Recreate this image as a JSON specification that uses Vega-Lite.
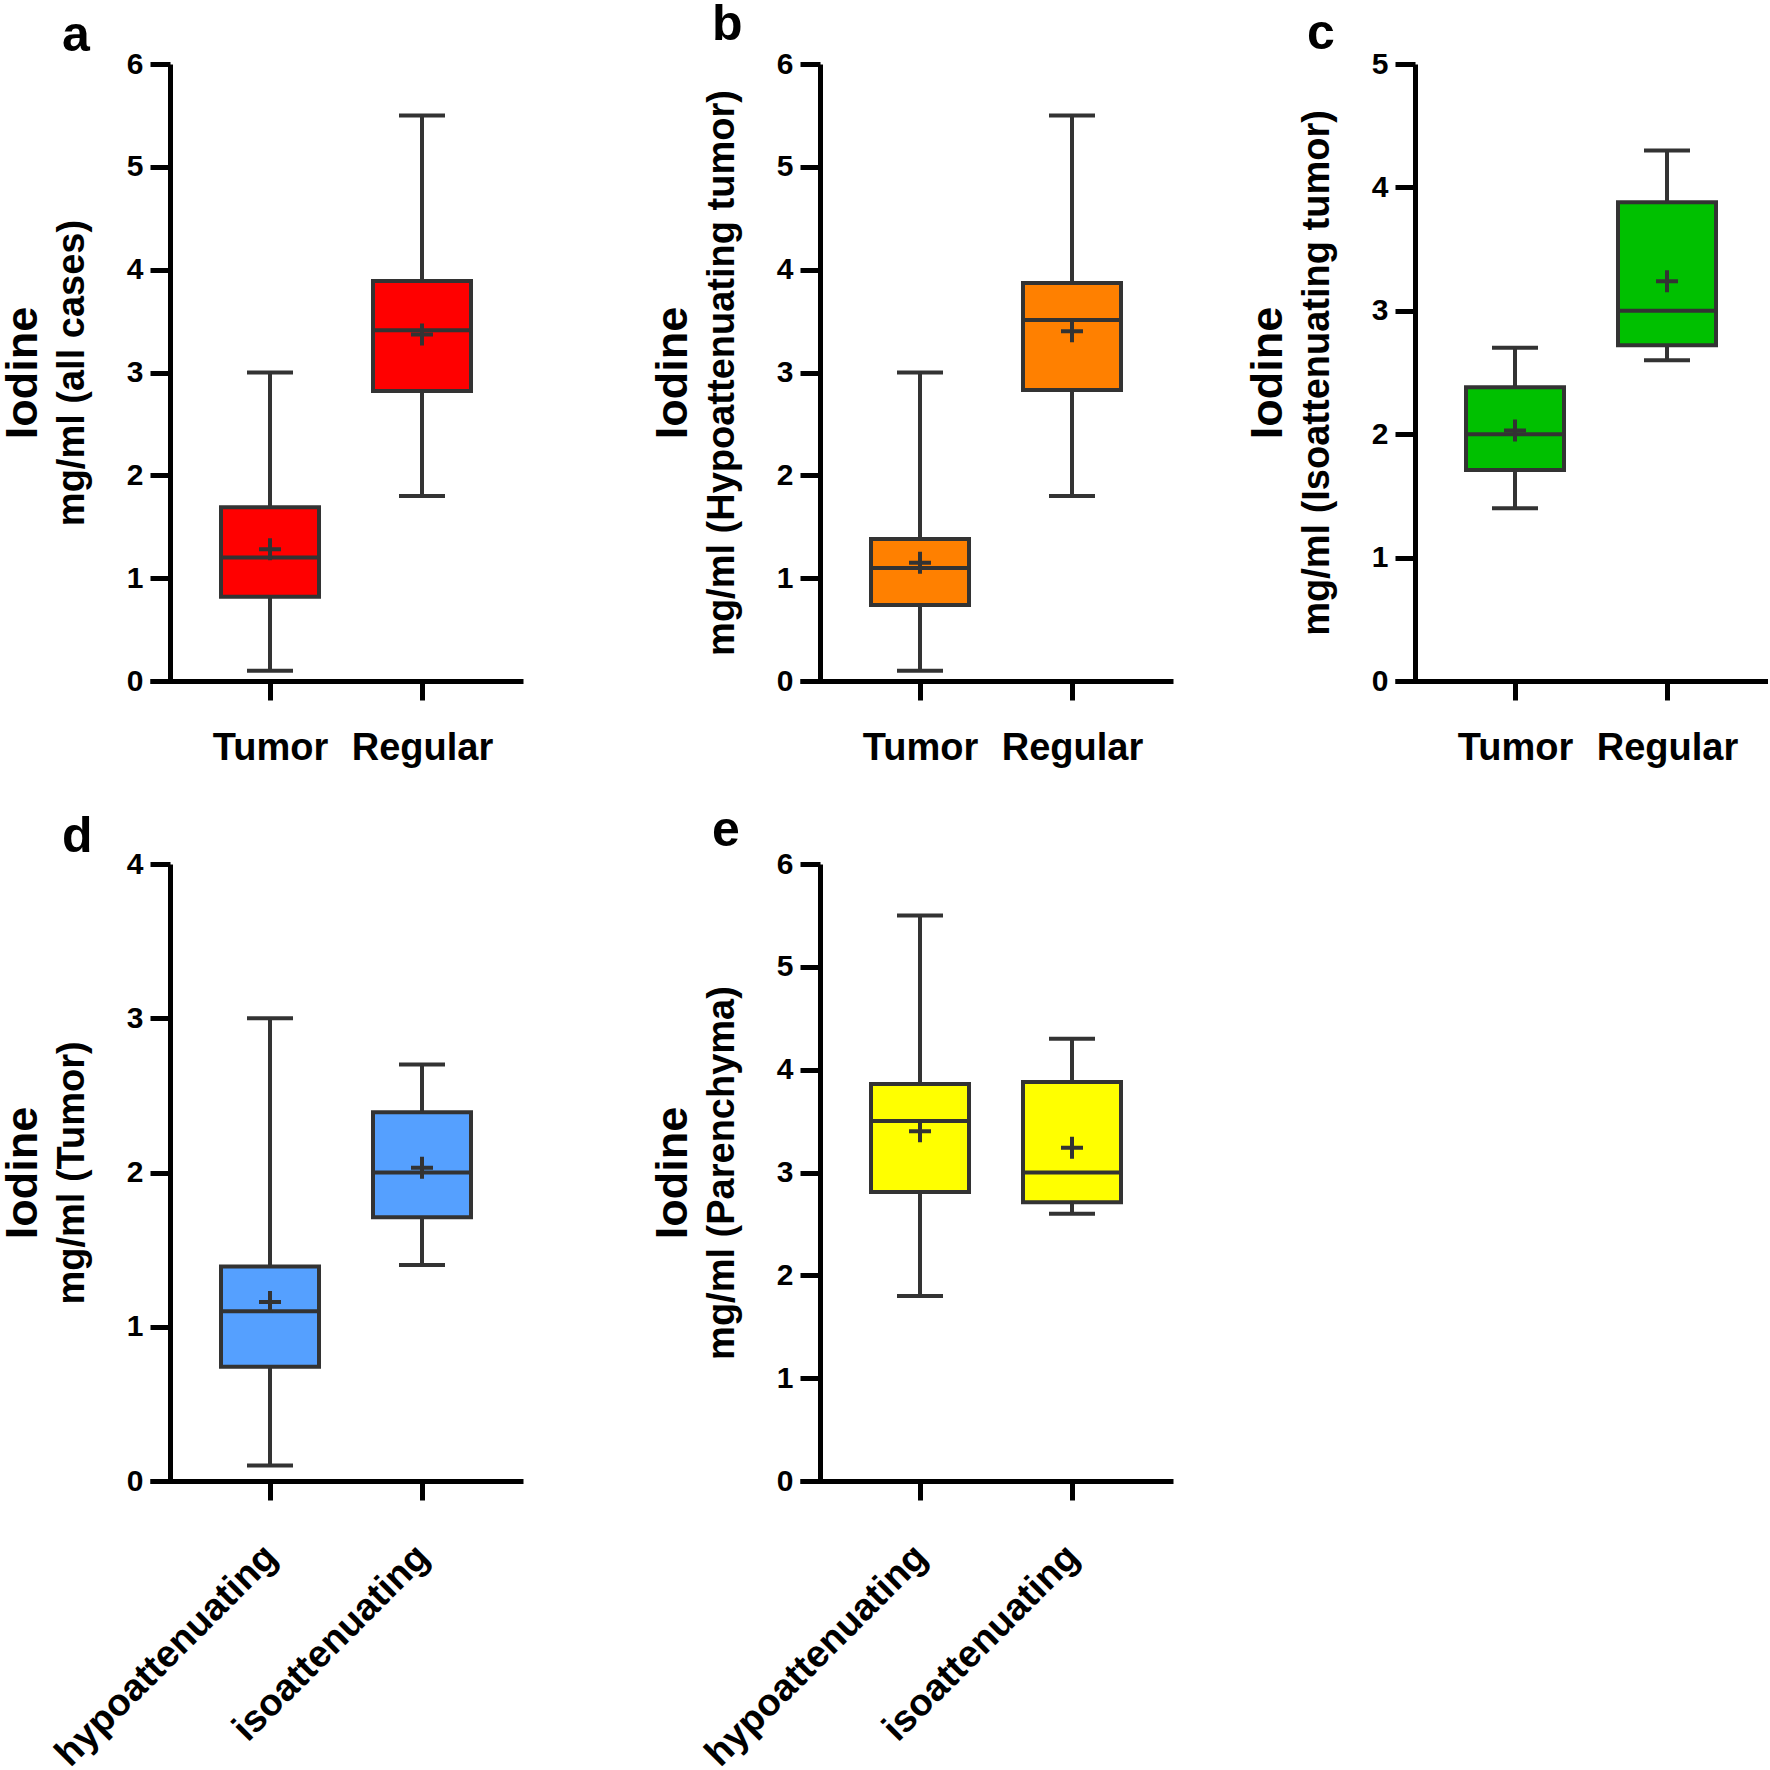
{
  "$schema": "https://vega.github.io/schema/vega-lite/v6.json",
  "padding": {"left": 0, "top": 0, "right": 0, "bottom": 0},
  "background": "white",
  "datasets": {
    "a": [
      {"g": "Tumor", "min": 0.1, "q1": 0.82, "med": 1.2, "q3": 1.69, "max": 3.0, "mean": 1.28},
      {"g": "Regular", "min": 1.8, "q1": 2.82, "med": 3.41, "q3": 3.89, "max": 5.5, "mean": 3.37}
    ],
    "b": [
      {"g": "Tumor", "min": 0.1, "q1": 0.74, "med": 1.1, "q3": 1.38, "max": 3.0, "mean": 1.15},
      {"g": "Regular", "min": 1.8, "q1": 2.83, "med": 3.51, "q3": 3.87, "max": 5.5, "mean": 3.4}
    ],
    "c": [
      {"g": "Tumor", "min": 1.4, "q1": 1.71, "med": 2.0, "q3": 2.38, "max": 2.7, "mean": 2.03},
      {"g": "Regular", "min": 2.6, "q1": 2.72, "med": 3.0, "q3": 3.88, "max": 4.3, "mean": 3.24}
    ],
    "d": [
      {"g": "hypoattenuating", "min": 0.1, "q1": 0.74, "med": 1.1, "q3": 1.39, "max": 3.0, "mean": 1.16},
      {"g": "isoattenuating", "min": 1.4, "q1": 1.71, "med": 2.0, "q3": 2.39, "max": 2.7, "mean": 2.03}
    ],
    "e": [
      {"g": "hypoattenuating", "min": 1.8, "q1": 2.81, "med": 3.5, "q3": 3.86, "max": 5.5, "mean": 3.4},
      {"g": "isoattenuating", "min": 2.6, "q1": 2.71, "med": 3.0, "q3": 3.88, "max": 4.3, "mean": 3.24}
    ]
  },
  "columns": 5,
  "spacing": {"row": 183, "column": 0},
  "bounds": "flush",
  "align": "each",
  "concat": [
    {
      "width": 373, "height": 617,
      "title": {"text": "a", "dy": 20},
      "data": {"name": "a"},
      "encoding": {"x": {"field": "g", "type": "nominal", "scale": {"type": "point", "domain": ["Tumor", "Regular"], "padding": 0.727, "align": 0.543},
        "axis": {"title": null, "labelAngle": 0, "labelFontSize": 38, "labelPadding": 29, "tickSize": 19, "labelBaseline": "top", "labelAlign": "center"}}},
      "layer": [
        {"mark": {"type": "rule", "color": "#333333", "strokeWidth": 4, "opacity": 1}, "encoding": {"y": {"field": "min", "type": "quantitative", "scale": {"domain": [0, 6], "nice": false}, "axis": {"title": "mg/ml (all cases)", "orient": "left", "offset": -20, "values": [0, 1, 2, 3, 4, 5, 6], "tickSize": 20, "labelPadding": 7, "labelFontSize": 30, "titleFontSize": 38, "titlePadding": 35}}, "y2": {"field": "max"}}},
        {"mark": {"type": "bar", "width": 98, "fill": "#FF0000", "stroke": "#333333", "strokeWidth": 4, "opacity": 1}, "encoding": {"y": {"field": "q1", "type": "quantitative", "axis": null}, "y2": {"field": "q3"}}},
        {"mark": {"type": "tick", "size": 98, "thickness": 4, "color": "#333333", "opacity": 1}, "encoding": {"y": {"field": "med", "type": "quantitative", "axis": null}}},
        {"mark": {"type": "tick", "size": 46, "thickness": 4, "color": "#333333", "opacity": 1}, "encoding": {"y": {"field": "min", "type": "quantitative", "axis": null}}},
        {"mark": {"type": "tick", "size": 46, "thickness": 4, "color": "#333333", "opacity": 1}, "encoding": {"y": {"field": "max", "type": "quantitative", "axis": null}}},
        {"mark": {"type": "point", "shape": "M-1,0L1,0M0,-1L0,1", "size": 484, "filled": false, "stroke": "#333333", "strokeWidth": 4, "opacity": 1}, "encoding": {"y": {"field": "mean", "type": "quantitative", "axis": {"title": "Iodine", "orient": "left", "offset": -20, "domain": false, "ticks": false, "labels": false, "titleFontSize": 45, "titlePadding": 125}}}}
      ],
      "resolve": {"axis": {"y": "independent"}}
    },
    {"width": 277, "height": 617, "data": {"values": []}, "mark": "point"},
    {
      "width": 373, "height": 617,
      "title": {"text": "b", "dy": 9},
      "data": {"name": "b"},
      "encoding": {"x": {"field": "g", "type": "nominal", "scale": {"type": "point", "domain": ["Tumor", "Regular"], "padding": 0.727, "align": 0.543},
        "axis": {"title": null, "labelAngle": 0, "labelFontSize": 38, "labelPadding": 29, "tickSize": 19, "labelBaseline": "top", "labelAlign": "center"}}},
      "layer": [
        {"mark": {"type": "rule", "color": "#333333", "strokeWidth": 4, "opacity": 1}, "encoding": {"y": {"field": "min", "type": "quantitative", "scale": {"domain": [0, 6], "nice": false}, "axis": {"title": "mg/ml (Hypoattenuating tumor)", "orient": "left", "offset": -20, "values": [0, 1, 2, 3, 4, 5, 6], "tickSize": 20, "labelPadding": 7, "labelFontSize": 30, "titleFontSize": 38, "titlePadding": 35}}, "y2": {"field": "max"}}},
        {"mark": {"type": "bar", "width": 98, "fill": "#FF8000", "stroke": "#333333", "strokeWidth": 4, "opacity": 1}, "encoding": {"y": {"field": "q1", "type": "quantitative", "axis": null}, "y2": {"field": "q3"}}},
        {"mark": {"type": "tick", "size": 98, "thickness": 4, "color": "#333333", "opacity": 1}, "encoding": {"y": {"field": "med", "type": "quantitative", "axis": null}}},
        {"mark": {"type": "tick", "size": 46, "thickness": 4, "color": "#333333", "opacity": 1}, "encoding": {"y": {"field": "min", "type": "quantitative", "axis": null}}},
        {"mark": {"type": "tick", "size": 46, "thickness": 4, "color": "#333333", "opacity": 1}, "encoding": {"y": {"field": "max", "type": "quantitative", "axis": null}}},
        {"mark": {"type": "point", "shape": "M-1,0L1,0M0,-1L0,1", "size": 484, "filled": false, "stroke": "#333333", "strokeWidth": 4, "opacity": 1}, "encoding": {"y": {"field": "mean", "type": "quantitative", "axis": {"title": "Iodine", "orient": "left", "offset": -20, "domain": false, "ticks": false, "labels": false, "titleFontSize": 45, "titlePadding": 125}}}}
      ],
      "resolve": {"axis": {"y": "independent"}}
    },
    {"width": 222, "height": 617, "data": {"values": []}, "mark": "point"},
    {
      "width": 373, "height": 617,
      "title": {"text": "c", "dy": 18},
      "data": {"name": "c"},
      "encoding": {"x": {"field": "g", "type": "nominal", "scale": {"type": "point", "domain": ["Tumor", "Regular"], "padding": 0.727, "align": 0.543},
        "axis": {"title": null, "labelAngle": 0, "labelFontSize": 38, "labelPadding": 29, "tickSize": 19, "labelBaseline": "top", "labelAlign": "center"}}},
      "layer": [
        {"mark": {"type": "rule", "color": "#333333", "strokeWidth": 4, "opacity": 1}, "encoding": {"y": {"field": "min", "type": "quantitative", "scale": {"domain": [0, 5], "nice": false}, "axis": {"title": "mg/ml (Isoattenuating tumor)", "orient": "left", "offset": -20, "values": [0, 1, 2, 3, 4, 5], "tickSize": 20, "labelPadding": 7, "labelFontSize": 30, "titleFontSize": 38, "titlePadding": 35}}, "y2": {"field": "max"}}},
        {"mark": {"type": "bar", "width": 98, "fill": "#00C000", "stroke": "#333333", "strokeWidth": 4, "opacity": 1}, "encoding": {"y": {"field": "q1", "type": "quantitative", "axis": null}, "y2": {"field": "q3"}}},
        {"mark": {"type": "tick", "size": 98, "thickness": 4, "color": "#333333", "opacity": 1}, "encoding": {"y": {"field": "med", "type": "quantitative", "axis": null}}},
        {"mark": {"type": "tick", "size": 46, "thickness": 4, "color": "#333333", "opacity": 1}, "encoding": {"y": {"field": "min", "type": "quantitative", "axis": null}}},
        {"mark": {"type": "tick", "size": 46, "thickness": 4, "color": "#333333", "opacity": 1}, "encoding": {"y": {"field": "max", "type": "quantitative", "axis": null}}},
        {"mark": {"type": "point", "shape": "M-1,0L1,0M0,-1L0,1", "size": 484, "filled": false, "stroke": "#333333", "strokeWidth": 4, "opacity": 1}, "encoding": {"y": {"field": "mean", "type": "quantitative", "axis": {"title": "Iodine", "orient": "left", "offset": -20, "domain": false, "ticks": false, "labels": false, "titleFontSize": 45, "titlePadding": 125}}}}
      ],
      "resolve": {"axis": {"y": "independent"}}
    },
    {
      "width": 373, "height": 617,
      "title": {"text": "d", "dy": 21},
      "data": {"name": "d"},
      "encoding": {"x": {"field": "g", "type": "nominal", "scale": {"type": "point", "domain": ["hypoattenuating", "isoattenuating"], "padding": 0.727, "align": 0.543},
        "axis": {"title": null, "labelAngle": -45, "labelFontSize": 38, "labelPadding": 51, "labelOffset": 1, "labelLimit": 600, "tickSize": 19, "labelBaseline": "middle", "labelAlign": "right"}}},
      "layer": [
        {"mark": {"type": "rule", "color": "#333333", "strokeWidth": 4, "opacity": 1}, "encoding": {"y": {"field": "min", "type": "quantitative", "scale": {"domain": [0, 4], "nice": false}, "axis": {"title": "mg/ml (Tumor)", "orient": "left", "offset": -20, "values": [0, 1, 2, 3, 4], "tickSize": 20, "labelPadding": 7, "labelFontSize": 30, "titleFontSize": 38, "titlePadding": 35}}, "y2": {"field": "max"}}},
        {"mark": {"type": "bar", "width": 98, "fill": "#55A0FF", "stroke": "#333333", "strokeWidth": 4, "opacity": 1}, "encoding": {"y": {"field": "q1", "type": "quantitative", "axis": null}, "y2": {"field": "q3"}}},
        {"mark": {"type": "tick", "size": 98, "thickness": 4, "color": "#333333", "opacity": 1}, "encoding": {"y": {"field": "med", "type": "quantitative", "axis": null}}},
        {"mark": {"type": "tick", "size": 46, "thickness": 4, "color": "#333333", "opacity": 1}, "encoding": {"y": {"field": "min", "type": "quantitative", "axis": null}}},
        {"mark": {"type": "tick", "size": 46, "thickness": 4, "color": "#333333", "opacity": 1}, "encoding": {"y": {"field": "max", "type": "quantitative", "axis": null}}},
        {"mark": {"type": "point", "shape": "M-1,0L1,0M0,-1L0,1", "size": 484, "filled": false, "stroke": "#333333", "strokeWidth": 4, "opacity": 1}, "encoding": {"y": {"field": "mean", "type": "quantitative", "axis": {"title": "Iodine", "orient": "left", "offset": -20, "domain": false, "ticks": false, "labels": false, "titleFontSize": 45, "titlePadding": 125}}}}
      ],
      "resolve": {"axis": {"y": "independent"}}
    },
    {"width": 277, "height": 617, "data": {"values": []}, "mark": "point"},
    {
      "width": 373, "height": 617,
      "title": {"text": "e", "dy": 15},
      "data": {"name": "e"},
      "encoding": {"x": {"field": "g", "type": "nominal", "scale": {"type": "point", "domain": ["hypoattenuating", "isoattenuating"], "padding": 0.727, "align": 0.543},
        "axis": {"title": null, "labelAngle": -45, "labelFontSize": 38, "labelPadding": 51, "labelOffset": 1, "labelLimit": 600, "tickSize": 19, "labelBaseline": "middle", "labelAlign": "right"}}},
      "layer": [
        {"mark": {"type": "rule", "color": "#333333", "strokeWidth": 4, "opacity": 1}, "encoding": {"y": {"field": "min", "type": "quantitative", "scale": {"domain": [0, 6], "nice": false}, "axis": {"title": "mg/ml (Parenchyma)", "orient": "left", "offset": -20, "values": [0, 1, 2, 3, 4, 5, 6], "tickSize": 20, "labelPadding": 7, "labelFontSize": 30, "titleFontSize": 38, "titlePadding": 35}}, "y2": {"field": "max"}}},
        {"mark": {"type": "bar", "width": 98, "fill": "#FFFF00", "stroke": "#333333", "strokeWidth": 4, "opacity": 1}, "encoding": {"y": {"field": "q1", "type": "quantitative", "axis": null}, "y2": {"field": "q3"}}},
        {"mark": {"type": "tick", "size": 98, "thickness": 4, "color": "#333333", "opacity": 1}, "encoding": {"y": {"field": "med", "type": "quantitative", "axis": null}}},
        {"mark": {"type": "tick", "size": 46, "thickness": 4, "color": "#333333", "opacity": 1}, "encoding": {"y": {"field": "min", "type": "quantitative", "axis": null}}},
        {"mark": {"type": "tick", "size": 46, "thickness": 4, "color": "#333333", "opacity": 1}, "encoding": {"y": {"field": "max", "type": "quantitative", "axis": null}}},
        {"mark": {"type": "point", "shape": "M-1,0L1,0M0,-1L0,1", "size": 484, "filled": false, "stroke": "#333333", "strokeWidth": 4, "opacity": 1}, "encoding": {"y": {"field": "mean", "type": "quantitative", "axis": {"title": "Iodine", "orient": "left", "offset": -20, "domain": false, "ticks": false, "labels": false, "titleFontSize": 45, "titlePadding": 125}}}}
      ],
      "resolve": {"axis": {"y": "independent"}}
    }
  ],
  "config": {
    "font": "Liberation Sans",
    "view": {"stroke": null},
    "axis": {
      "labelFont": "Liberation Sans", "labelFontWeight": "bold", "labelColor": "#000000",
      "titleFont": "Liberation Sans", "titleFontWeight": "bold", "titleColor": "#000000",
      "domainColor": "#000000", "tickColor": "#000000", "domainWidth": 5, "tickWidth": 5, "grid": false
    },
    "title": {"anchor": "start", "frame": "group", "fontSize": 50, "fontWeight": "bold", "font": "Liberation Sans", "color": "#000000", "dx": -88, "offset": 8}
  }
}
